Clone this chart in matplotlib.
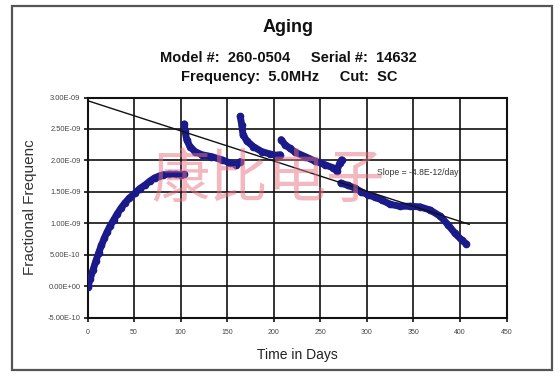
import matplotlib
matplotlib.use("Agg")
import matplotlib.pyplot as plt
from matplotlib.patches import Rectangle
import numpy as np

plt.rcParams['font.family'] = ['Liberation Sans', 'DejaVu Sans']

# ---- data (values in units of 1e-9) ----
seg1_days = [0, 1, 3, 6, 9, 12, 15, 18, 21, 24, 28, 32, 36, 40, 45, 51, 56, 62, 67, 72, 77, 81, 88, 95, 100, 104]
seg1_vals = [-0.02, 0.03, 0.12, 0.26, 0.40, 0.53, 0.65, 0.76, 0.86, 0.95, 1.05, 1.15, 1.24, 1.32, 1.40, 1.48, 1.55, 1.61, 1.67, 1.72, 1.75, 1.77, 1.78, 1.78, 1.77, 1.78]

seg2_days = [104, 104.7, 106.5, 110, 115.5, 122.6, 133, 144, 153, 160, 164]
seg2_vals = [2.58, 2.47, 2.33, 2.22, 2.14, 2.09, 2.06, 2.01, 1.96, 1.93, 1.98]

seg3_days = [164, 165.6, 167, 171, 178, 187, 196, 203, 207]
seg3_vals = [2.70, 2.57, 2.41, 2.31, 2.22, 2.14, 2.10, 2.08, 2.09]

seg4_days = [208, 212, 217.5, 223, 233.6, 244, 255, 264, 267.7, 271, 273]
seg4_vals = [2.33, 2.25, 2.19, 2.13, 2.06, 1.99, 1.93, 1.88, 1.83, 1.96, 2.01]

seg5_days = [272, 280, 287, 294, 301.6, 309, 316, 325, 335.6, 346, 357, 368, 379, 387.5, 394.7, 402, 407]
seg5_vals = [1.64, 1.60, 1.56, 1.50, 1.45, 1.41, 1.37, 1.30, 1.27, 1.27, 1.26, 1.21, 1.11, 0.97, 0.84, 0.73, 0.67]

trend_intercept = 2.95e-9
trend_slope = -4.8e-12
trend_days = [0, 410]

x_ticks = [0, 50, 100, 150, 200, 250, 300, 350, 400, 450]
y_ticks = [-5e-10, 0, 5e-10, 1e-9, 1.5e-9, 2e-9, 2.5e-9, 3e-9]

title = "Aging"
subtitle1 = "Model #:  260-0504     Serial #:  14632"
subtitle2 = "Frequency:  5.0MHz     Cut:  SC"
xlabel = "Time in Days"
ylabel = "Fractional Frequenc"
slope_text = "Slope = -4.8E-12/day"
watermark = "康比电子"

# ---- figure ----
fig = plt.figure(figsize=(5.6, 3.78), dpi=100)
fig.patch.set_facecolor('white')

# outer chart frame
fig.add_artist(Rectangle((12/560, 1-370/378), (552-12)/560, (370-6)/378,
                         transform=fig.transFigure, fill=False,
                         edgecolor='#555555', linewidth=1.6))

ax = fig.add_axes([87.5/560, 1-317.5/378, 419/560, 220/378])
ax.set_xlim(0, 450)
ax.set_ylim(-5e-10, 3e-9)
ax.set_xticks(x_ticks)
ax.set_yticks(y_ticks)
ax.set_xticklabels([str(t) for t in x_ticks], fontsize=5, color='#444444')
ax.set_yticklabels(["%.2E" % t for t in y_ticks], fontsize=5.4, color='#444444')
ax.grid(True, color='#111111', linewidth=1.2)
ax.set_axisbelow(True)
for sp in ax.spines.values():
    sp.set_color('#111111')
    sp.set_linewidth(1.5)
ax.tick_params(axis='y', length=3, width=1.2, color='#111111', pad=2)
ax.tick_params(axis='x', length=3, width=1.2, color='#111111', pad=5)

navy = '#1a1a8a'
for d, v in [(seg1_days, seg1_vals), (seg2_days, seg2_vals), (seg3_days, seg3_vals),
             (seg4_days, seg4_vals), (seg5_days, seg5_vals)]:
    vals = np.array(v) * 1e-9
    ax.plot(d, vals, color=navy, linewidth=5.0, solid_capstyle='round',
            solid_joinstyle='round', zorder=3)
    ax.plot(d, vals, 'o', color=navy, markersize=4.5, zorder=3)

td = np.array(trend_days, dtype=float)
ax.plot(td, trend_intercept + trend_slope * td, color='#111111', linewidth=1.0, zorder=4)

ax.text(311, 1.81e-9, slope_text, fontsize=6.2, color='#333333', va='center', ha='left', zorder=5)

ax.set_xlabel(xlabel, fontsize=10, color='#222222', labelpad=9)
fig.text(30/560, 1-207/378, ylabel, rotation=90, fontsize=11, color='#333333',
         ha='center', va='center')

fig.text(288/560, 1-27/378, title, fontsize=13, fontweight='bold', ha='center', va='center', color='#111111')
fig.text(288.5/560, 1-58/378, subtitle1, fontsize=10.5, fontweight='bold', ha='center', va='center', color='#111111')
fig.text(289/560, 1-77/378, subtitle2, fontsize=10.5, fontweight='bold', ha='center', va='center', color='#111111')

fig.text(268/560, 1-180/378, watermark, fontsize=42, color='#e87080', alpha=0.5,
         ha='center', va='center', family=['Noto Sans CJK SC', 'DejaVu Sans'], zorder=10)

fig.savefig('out.png', dpi=100)
